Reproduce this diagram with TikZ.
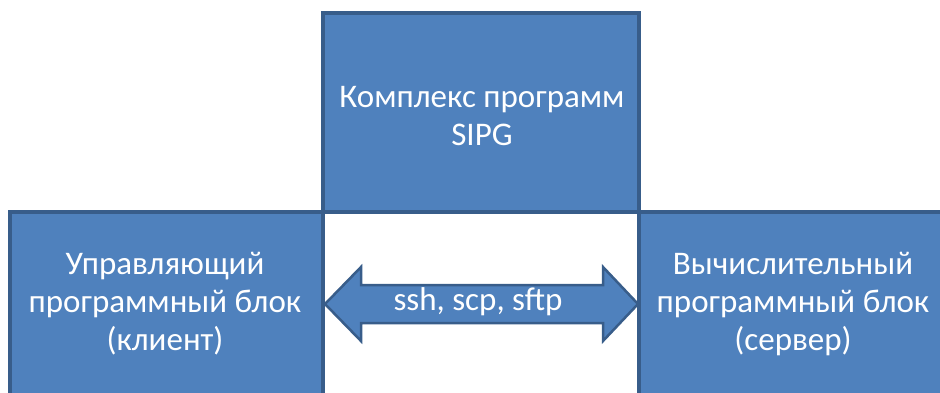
\documentclass[tikz,border=0pt]{standalone}
\usepackage{fontspec}
\setmainfont{Carlito}
\definecolor{boxfill}{HTML}{4F81BD}
\definecolor{boxline}{HTML}{385D8A}
\tikzset{
  block/.style={fill=boxfill, draw=boxline, line width=3.5pt},
  label/.style={text=white, align=center, font=\fontsize{33}{38}\selectfont, inner sep=0pt},
}
\begin{document}
\begin{tikzpicture}[x=1pt, y=-1pt]
  \useasboundingbox (0,0) rectangle (940,392);
  \clip (0,0) rectangle (940,392);
  % side blocks
  \draw[block] (10,212) rectangle (323,410);
  \draw[block] (639,212) rectangle (960,410);
  % top block
  \draw[block] (323,13) rectangle (639,212);
  % double arrow between the side blocks
  \draw[block, line width=2.5pt, line join=miter]
    (325,304) -- (361,267) -- (361,285) -- (603,285) -- (603,267) -- (638,304)
    -- (603,341) -- (603,323) -- (361,323) -- (361,341) -- cycle;
  % labels
  \node[label] (top) at (482,116) {Комплекс программ\\SIPG};
  \node[label] (client) at (165,304) {Управляющий\\программный блок\\(клиент)};
  \node[label] (server) at (793,304) {Вычислительный\\программный блок\\(сервер)};
  \node[label] (link) at (478,302) {ssh, scp, sftp};
\end{tikzpicture}
\end{document}
